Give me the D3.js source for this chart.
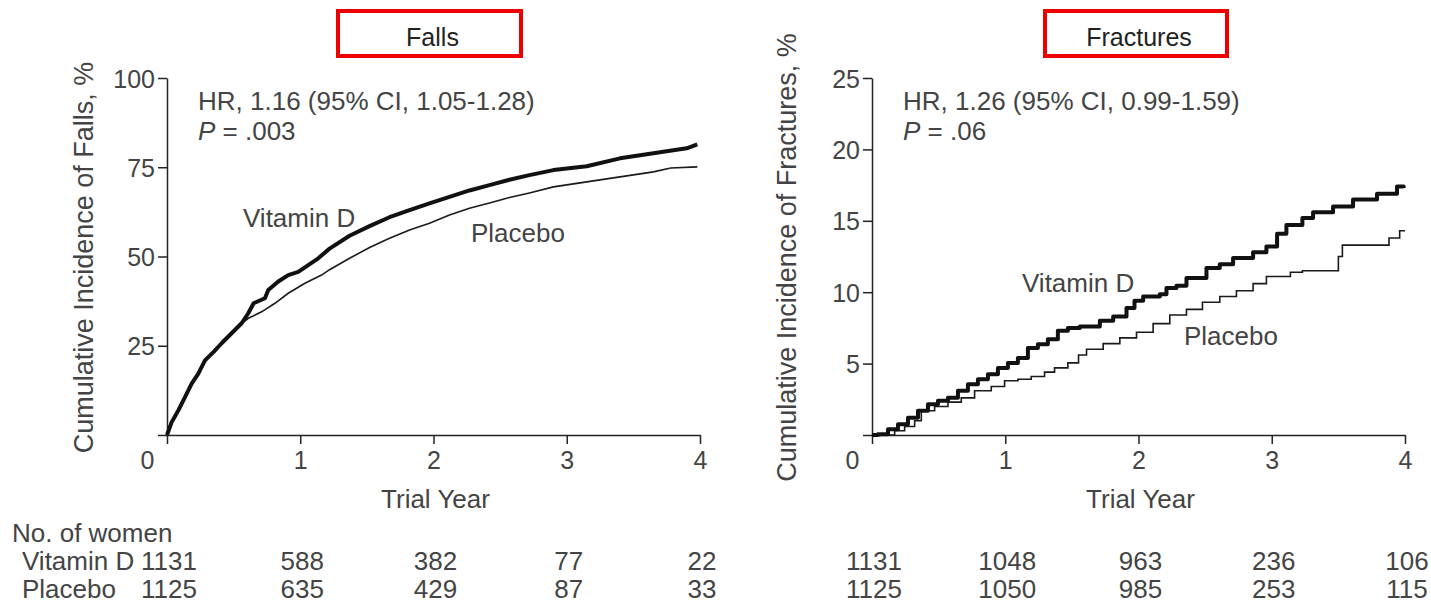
<!DOCTYPE html>
<html>
<head>
<meta charset="utf-8">
<script src="https://cdn.jsdelivr.net/npm/d3@7"></script>
<style>
  body { margin: 0; background: #fff; }
  svg text { font-family: "Liberation Sans", Arial, sans-serif; fill: #444; font-size: 26px; }
  .axis path, .axis line { stroke: #222; stroke-width: 1.5; }
  .axis text { font-size: 25px; fill: #444; }
</style>
</head>
<body>
<div id="chart"></div>
<script>
// trial years shown on x axis
const years = [0, 1, 2, 3, 4];

// Falls: cumulative incidence, %
const fallsVitD = [[0,0],[0.035,3.6],[0.085,6.9],[0.135,10.6],[0.185,14.4],[0.235,17.2],[0.285,20.9],[0.35,23.3],[0.41,25.7],[0.485,28.5],[0.56,31.3],[0.61,34.1],[0.65,36.9],[0.735,38.3],[0.76,40.6],[0.835,43],[0.91,44.8],[0.985,45.7],[1.06,47.6],[1.135,49.5],[1.22,52.2],[1.37,55.8],[1.52,58.5],[1.67,61],[1.82,63],[1.97,64.9],[2.12,66.7],[2.27,68.5],[2.42,70],[2.57,71.5],[2.72,72.8],[2.9,74.2],[3.15,75.3],[3.4,77.5],[3.65,78.9],[3.9,80.3],[3.98,81.4]];
const fallsPlacebo = [[0,0],[0.035,3.5],[0.085,6.7],[0.135,10.3],[0.185,14.0],[0.235,17.0],[0.285,20.6],[0.35,23.1],[0.41,25.5],[0.485,28.4],[0.56,31.2],[0.61,32.7],[0.71,34.5],[0.81,36.9],[0.91,39.7],[1.035,42.5],[1.16,44.8],[1.22,46.3],[1.37,49.5],[1.52,52.5],[1.67,55.1],[1.82,57.4],[1.97,59.3],[2.12,61.6],[2.27,63.5],[2.42,65],[2.57,66.5],[2.72,67.8],[2.9,69.5],[3.15,70.9],[3.4,72.3],[3.65,73.7],[3.78,74.8],[3.98,75.1]];

// Fractures: cumulative incidence, %
const fracVitD = [[0,0],[0.045,0.05],[0.12,0.4],[0.195,0.75],[0.27,1.2],[0.345,1.7],[0.42,2.15],[0.495,2.4],[0.57,2.6],[0.645,3.1],[0.72,3.55],[0.795,3.9],[0.87,4.25],[0.945,4.7],[1.02,5.05],[1.095,5.4],[1.17,6.1],[1.245,6.35],[1.32,6.7],[1.395,7.3],[1.47,7.5],[1.56,7.6],[1.71,8.0],[1.81,8.3],[1.91,8.9],[1.97,9.4],[2.035,9.7],[2.16,9.85],[2.21,10.3],[2.285,10.45],[2.36,11.0],[2.51,11.7],[2.61,11.95],[2.71,12.4],[2.86,12.8],[2.96,13.2],[3.04,14.1],[3.11,14.7],[3.23,15.2],[3.31,15.6],[3.46,16.0],[3.61,16.5],[3.79,16.9],[3.94,17.4],[3.99,17.3]];
const fracPlacebo = [[0,0],[0.07,0],[0.17,0.3],[0.245,0.6],[0.32,1.0],[0.37,1.7],[0.47,2.0],[0.57,2.3],[0.67,2.6],[0.77,3.1],[0.895,3.4],[0.995,3.8],[1.095,3.9],[1.195,4.1],[1.295,4.4],[1.37,4.7],[1.47,5.05],[1.55,5.6],[1.61,6.0],[1.735,6.4],[1.86,6.8],[1.985,7.2],[2.11,7.8],[2.235,8.4],[2.36,8.8],[2.48,9.3],[2.61,9.7],[2.735,10.1],[2.86,10.6],[2.96,11.1],[3.14,11.4],[3.23,11.5],[3.5,12.5],[3.53,13.3],[3.88,13.8],[3.96,14.3],[4.0,14.3]];

// numbers at risk
const groups = ["Vitamin D", "Placebo"];
const fallsAtRisk = [[1131, 588, 382, 77, 22], [1125, 635, 429, 87, 33]];
const fracAtRisk = [[1131, 1048, 963, 236, 106], [1125, 1050, 985, 253, 115]];

const panels = [
  { title: "Falls", left: 167, yMax: 100, yTicks: [0,25,50,75,100], yLabel: "Cumulative Incidence of Falls, %",
    vit: fallsVitD, pla: fallsPlacebo, step: false, atRisk: fallsAtRisk,
    hr: "HR, 1.16 (95% CI, 1.05-1.28)", p: ".003",
    box: [338, 521], vitLab: [243, 227], plaLab: [471, 242], yLabX: 93 },
  { title: "Fractures", left: 872, yMax: 25, yTicks: [0,5,10,15,20,25], yLabel: "Cumulative Incidence of Fractures, %",
    vit: fracVitD, pla: fracPlacebo, step: true, atRisk: fracAtRisk,
    hr: "HR, 1.26 (95% CI, 0.99-1.59)", p: ".06",
    box: [1045, 1227], vitLab: [1022, 292], plaLab: [1184, 345], yLabX: 796 }
];

const width = 1431, height = 603;
const plotTop = 78, plotBottom = 435, plotW = 533;

const svg = d3.select("#chart").append("svg")
  .attr("width", width)
  .attr("height", height);

panels.forEach(function(p) {
  const x = d3.scaleLinear().domain([0, 4]).range([p.left, p.left + plotW]);
  const y = d3.scaleLinear().domain([0, p.yMax]).range([plotBottom, plotTop]);

  // title box
  svg.append("rect")
    .attr("x", p.box[0]).attr("y", 11)
    .attr("width", p.box[1] - p.box[0]).attr("height", 45)
    .attr("fill", "none").attr("stroke", "#ee0000").attr("stroke-width", 4);
  svg.append("text")
    .attr("x", (p.box[0] + p.box[1]) / 2 + 3).attr("y", 46)
    .attr("text-anchor", "middle").style("font-size", "25px").style("fill", "#222")
    .text(p.title);

  // axes
  const xAxis = d3.axisBottom(x).tickValues(years).tickFormat(d3.format("d"))
    .tickSize(9).tickPadding(7).tickSizeOuter(0);
  const gx = svg.append("g").attr("class", "axis")
    .attr("transform", "translate(0," + plotBottom + ")")
    .call(xAxis);
  gx.selectAll(".tick text").filter(d => d === 0).attr("dx", -20);

  const yAxis = d3.axisLeft(y).tickValues(p.yTicks).tickSize(9).tickPadding(3).tickSizeOuter(0)
    .tickFormat(d => d === 0 ? "" : d);
  svg.append("g").attr("class", "axis")
    .attr("transform", "translate(" + p.left + ",0)")
    .call(yAxis)
    .selectAll(".tick text").attr("dy", "0.36em");

  svg.append("text")
    .attr("transform", "translate(" + p.yLabX + "," + ((plotTop + plotBottom) / 2 + 1) + ") rotate(-90)")
    .attr("text-anchor", "middle").style("font-size", "27px")
    .text(p.yLabel);

  svg.append("text")
    .attr("x", x(2) + 2).attr("y", 508)
    .attr("text-anchor", "middle")
    .text("Trial Year");

  // curves
  const line = d3.line()
    .x(d => x(d[0])).y(d => y(d[1]))
    .curve(p.step ? d3.curveStepAfter : d3.curveLinear);

  svg.append("path").datum(p.pla)
    .attr("d", line).attr("fill", "none")
    .attr("stroke", "#1a1a1a").attr("stroke-width", 1.6);
  svg.append("path").datum(p.vit)
    .attr("d", line).attr("fill", "none")
    .attr("stroke", "#111").attr("stroke-width", 4).attr("stroke-linejoin", "round");

  // annotations
  const ax = p.left + 31;
  svg.append("text").attr("x", ax).attr("y", 110).text(p.hr);
  const pt = svg.append("text").attr("x", ax).attr("y", 140);
  pt.append("tspan").style("font-style", "italic").text("P");
  pt.append("tspan").text(" = " + p.p);

  svg.append("text").attr("x", p.vitLab[0]).attr("y", p.vitLab[1]).text("Vitamin D");
  svg.append("text").attr("x", p.plaLab[0]).attr("y", p.plaLab[1]).text("Placebo");

  // numbers at risk
  p.atRisk.forEach(function(row, i) {
    svg.selectAll(null).data(row).enter().append("text")
      .attr("x", (d, j) => x(years[j]) + 2)
      .attr("y", 570 + i * 28)
      .attr("text-anchor", "middle")
      .text(d => d);
  });
});

// at-risk row labels
svg.append("text").attr("x", 12).attr("y", 542).text("No. of women");
groups.forEach(function(g, i) {
  svg.append("text").attr("x", 22).attr("y", 570 + i * 28).text(g);
});
</script>
</body>
</html>
